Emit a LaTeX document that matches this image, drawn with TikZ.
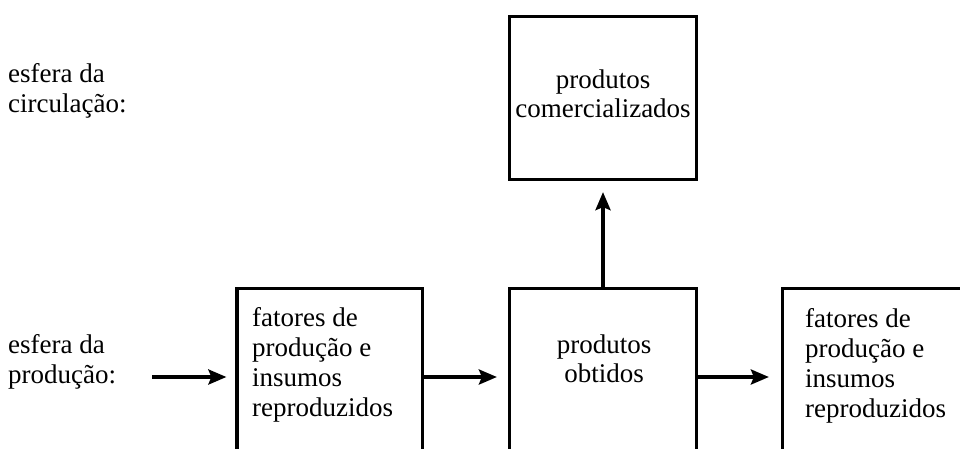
\documentclass[tikz,border=0pt]{standalone}
\usepackage{fontspec}
\newfontfamily\diagfont{Liberation Serif}
\usetikzlibrary{arrows.meta}
\begin{document}
\begin{tikzpicture}[x=1pt,y=-1pt,
  box/.style={draw, line width=3.2pt, inner sep=0pt},
  txt/.style={font=\fontsize{27}{30}\selectfont\diagfont, inner sep=0pt, anchor=north west, align=left},
  ctxt/.style={font=\fontsize{27}{29}\selectfont\diagfont, inner sep=0pt, anchor=north, align=center},
  arr/.style={line width=3.5pt, -{Stealth[length=18pt,width=15pt,inset=3pt]}}]
\fill[white] (0,0) rectangle (960,448);
\useasboundingbox (0,0) rectangle (960,448);
% boxes
\node[box, minimum width=187pt, minimum height=163pt] (tbox) at (603,98) {};
\node[box, minimum width=185.5pt, minimum height=177pt] (lbox) at (329.75,377) {};
\node[box, minimum width=187pt, minimum height=177pt] (mbox) at (603,377) {};
\node[box, minimum width=197.5pt, minimum height=177pt] (rbox) at (881.25,377) {};
% texts
\node[txt] (lab1) at (8,63.6) {esfera da\\circulação:};
\node[txt] (lab2) at (8,334.6) {esfera da\\produção:};
\node[ctxt] (ttext) at (603,69.6) {produtos\\comercializados};
\node[ctxt] (mtext) at (604,334.6) {produtos\\obtidos};
\node[txt] (ltext) at (252,307.6) {fatores de\\produção e\\insumos\\reproduzidos};
\node[txt] (rtext) at (805,308.6) {fatores de\\produção e\\insumos\\reproduzidos};
% connectors
\coordinate (inStart) at (152,377);
\draw[arr, shorten >=9pt] (inStart) -- (inStart -| lbox.west);
\draw[arr, shorten >=11pt] (lbox.east) -- (mbox.west);
\draw[arr, shorten >=12pt] (mbox.east) -- (rbox.west);
\draw[arr, shorten >=11pt] (mbox.north) -- (tbox.south);
\end{tikzpicture}
\end{document}
